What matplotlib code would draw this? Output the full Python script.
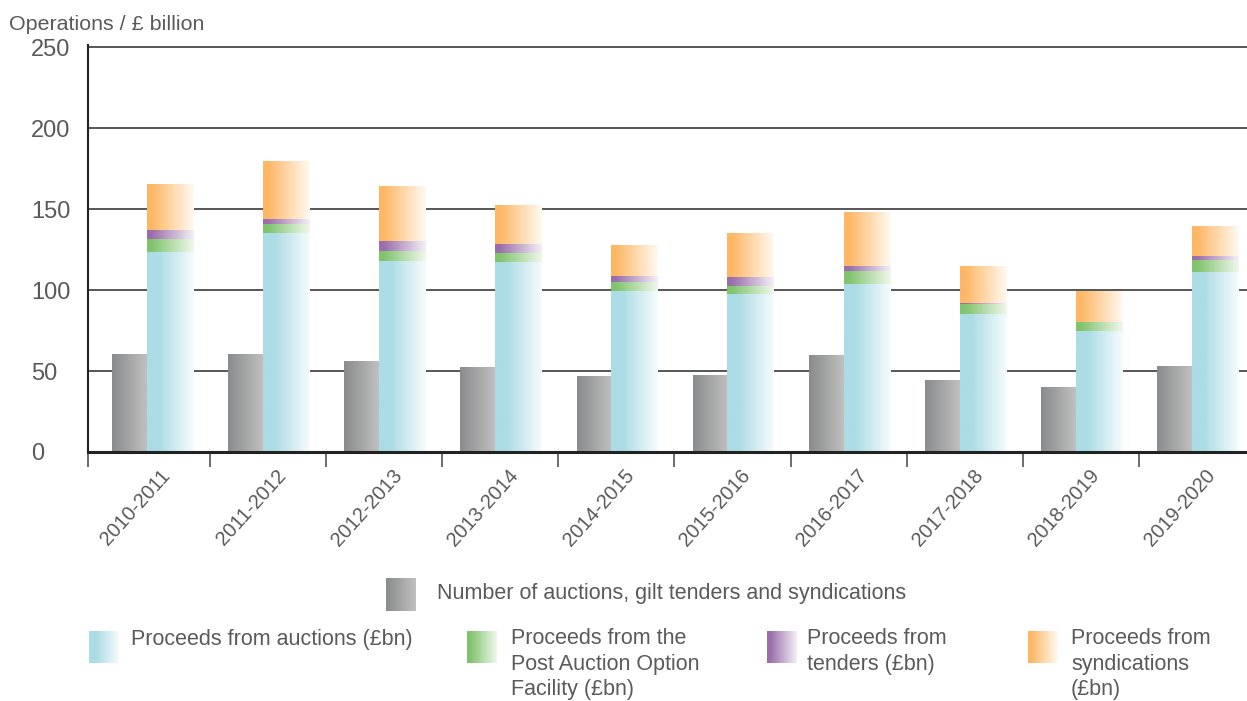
import numpy as np
import matplotlib
matplotlib.use('Agg')
import matplotlib.pyplot as plt
from matplotlib.transforms import ScaledTranslation
from matplotlib.colors import to_rgb

# ---------------- data ----------------
years = ['2010-2011', '2011-2012', '2012-2013', '2013-2014', '2014-2015',
         '2015-2016', '2016-2017', '2017-2018', '2018-2019', '2019-2020']
num_operations = [60.0, 60.0, 55.6, 51.9, 46.9, 47.5, 59.3, 44.4, 40.1, 52.5]
auctions = [123.5, 135.2, 117.9, 117.3, 99.4, 97.5, 103.7, 85.2, 74.7, 111.1]
paof = [7.8, 5.7, 6.2, 5.5, 5.5, 5.0, 8.0, 6.2, 5.5, 7.4]
tenders = [5.7, 2.9, 6.1, 5.6, 3.7, 5.5, 2.9, 0.6, 0.0, 2.5]
syndications = [27.8, 35.2, 33.4, 23.5, 18.6, 26.6, 32.9, 22.8, 18.6, 18.5]
y_ticks = [0, 50, 100, 150, 200, 250]

legend_top = 'Number of auctions, gilt tenders and syndications'
legend_rows = [['Proceeds from auctions (£bn)'],
               ['Proceeds from the', 'Post Auction Option', 'Facility (£bn)'],
               ['Proceeds from', 'tenders (£bn)'],
               ['Proceeds from', 'syndications', '(£bn)']]

# ---------------- style ----------------
W, H, DPI = 1247, 701, 100
plt.rcParams['font.family'] = ['Liberation Sans', 'DejaVu Sans']
TXT = '#5a5a5a'

grads = {
    'grey':   ('#8a8b8c', '#c0c0c0', 0.0),
    'cyan':   ('#acdce5', '#f6fcfe', 0.25),
    'green':  ('#80c36c', '#f0f8ec', 0.1),
    'purple': ('#9a6eab', '#f4eff7', 0.1),
    'orange': ('#fdb765', '#fffaf2', 0.1),
}


def grad_img(key):
    c0, c1, start = grads[key]
    c0 = np.array(to_rgb(c0)); c1 = np.array(to_rgb(c1))
    t = np.linspace(0, 1, 256)
    f = np.clip((t - start) / (1 - start), 0, 1)
    cols = c0[None, :] * (1 - f[:, None]) + c1[None, :] * f[:, None]
    return cols[None, :, :]


fig = plt.figure(figsize=(W / DPI, H / DPI), dpi=DPI)
ax_left, ax_right = 88 / W, 1.0
y0_px, y250_px = 452, 47
ax = fig.add_axes([ax_left, (H - y0_px) / H, ax_right - ax_left, (y0_px - y250_px + 1.6) / H])

x = np.arange(len(years))
grey_w, stack_w = 0.30, 0.40
grey_x = x - 0.193
stack_x = x + 0.157


def gradient_bars(container, key):
    img = grad_img(key)
    for r in container:
        bx, by = r.get_xy()
        bw, bh = r.get_width(), r.get_height()
        if bh <= 0:
            continue
        ax.imshow(img, extent=[bx, bx + bw, by, by + bh], aspect='auto',
                  interpolation='bilinear', zorder=2)


b = ax.bar(grey_x, num_operations, grey_w, color='none', edgecolor='none')
gradient_bars(b, 'grey')
bottom = np.zeros(len(years))
for vals, key in [(auctions, 'cyan'), (paof, 'green'), (tenders, 'purple'), (syndications, 'orange')]:
    b = ax.bar(stack_x, vals, stack_w, bottom=bottom, color='none', edgecolor='none')
    gradient_bars(b, key)
    bottom = bottom + np.array(vals)

xmin = -0.551
ax.set_xlim(xmin, 9.432)
ax.set_ylim(0, 251)

# grid
ax.set_axisbelow(True)
ax.yaxis.grid(True, color='#3a3a3a', linewidth=1.2)
ax.set_yticks(y_ticks)
ax.tick_params(axis='y', length=0, pad=41, labelsize=17, labelcolor=TXT)
plt.setp(ax.get_yticklabels(), ha='left')

# spines
for s in ['top', 'right']:
    ax.spines[s].set_visible(False)
ax.spines['left'].set_color('#222222')
ax.spines['left'].set_linewidth(1.5)
ax.spines['bottom'].set_color('#222222')
ax.spines['bottom'].set_linewidth(2.2)

# x ticks at category boundaries
ax.set_xticks([xmin] + [i + 0.5 for i in range(len(years) - 1)])
ax.set_xticklabels([])
ax.tick_params(axis='x', length=11, width=1.1, color='#444444', direction='out')

# x labels
trans = ax.get_xaxis_transform() + ScaledTranslation(15 / DPI, -20 / DPI, fig.dpi_scale_trans)
for i, yr in enumerate(years):
    ax.text(i, 0, yr, transform=trans, rotation=48, rotation_mode='anchor',
            ha='right', va='center', fontsize=14.5, color=TXT)

# title
fig.text(9 / W, 1 - 30 / H, 'Operations / £ billion', fontsize=15.4, color=TXT, va='baseline')


# legend
def swatch(xp, yp, wp, hp, key):
    a = fig.add_axes([xp / W, (H - yp - hp) / H, wp / W, hp / H])
    a.imshow(grad_img(key), aspect='auto', interpolation='bilinear',
             extent=[0, 1, 0, 1])
    a.set_axis_off()


swatch(386, 578, 30, 33, 'grey')
fig.text(437 / W, 1 - 593 / H, legend_top, fontsize=15.5, color=TXT, va='center')

sw_x = [89, 467, 767, 1028]
tx_x = [131, 511, 807, 1071]
keys = ['cyan', 'green', 'purple', 'orange']
for sx, tx, k, lines in zip(sw_x, tx_x, keys, legend_rows):
    swatch(sx, 631, 30, 32, k)
    for j, ln in enumerate(lines):
        fig.text(tx / W, 1 - (639 + 25.5 * j) / H, ln, fontsize=15.5, color=TXT, va='center')

fig.savefig('out.png', dpi=DPI)
